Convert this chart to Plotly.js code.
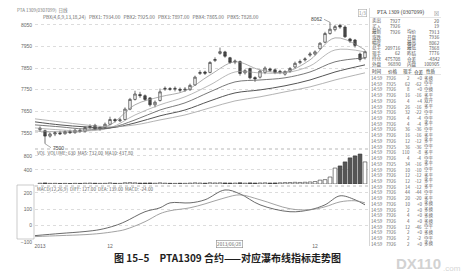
<!DOCTYPE html>
<html>
<head>
<meta charset="utf-8">
<script src="https://cdn.plot.ly/plotly-3.0.1.min.js"></script>
<style>
  html, body { margin: 0; padding: 0; background: #fff; }
  #chart { width: 468px; height: 278px; }
</style>
</head>
<body>
<div id="chart"></div>
<script>
// PTA1309 daily bars (index 0 = first visible session)
const barOpen  = [7565,7560,7535,7545,7550,7546,7556,7551,7562,7557,7575,7585,7568,7575,7590,7612,7606,7612,7660,7705,
                  7728,7722,7712,7680,7700,7752,7755,7752,7752,7748,7750,7772,7825,7832,7830,7885,7918,7925,7898,7878,
                  7880,7828,7848,7806,7808,7830,7846,7842,7830,7822,7835,7855,7875,7888,7910,7915,7940,7970,8010,8028,
                  8048,8040,7985,7980,7915,7898];
const barHigh  = [7580,7565,7552,7558,7560,7562,7565,7568,7570,7580,7590,7592,7582,7598,7625,7618,7620,7668,7712,7745,
                  7740,7728,7716,7700,7755,7765,7762,7765,7760,7762,7778,7815,7840,7838,7882,7900,7945,7930,7902,7890,
                  7885,7845,7852,7812,7842,7858,7852,7848,7842,7840,7855,7880,7890,7900,7925,7932,7970,8018,8062,8050,
                  8055,8048,7990,7985,7922,7932];
const barLow   = [7555,7500,7528,7535,7540,7542,7545,7546,7550,7552,7568,7562,7560,7570,7585,7598,7600,7608,7655,7700,
                  7712,7698,7672,7668,7695,7745,7745,7742,7738,7740,7745,7768,7818,7818,7826,7878,7912,7898,7870,7868,
                  7815,7820,7798,7786,7802,7822,7832,7822,7822,7815,7828,7850,7868,7880,7902,7908,7935,7965,8005,8020,
                  8032,7990,7966,7945,7880,7890];
const barClose = [7572,7535,7545,7550,7546,7556,7551,7562,7557,7575,7580,7568,7575,7590,7612,7606,7610,7660,7705,7730,
                  7722,7705,7680,7692,7740,7756,7752,7756,7748,7752,7770,7808,7830,7826,7876,7890,7926,7905,7876,7882,
                  7825,7838,7805,7800,7836,7850,7840,7830,7835,7834,7848,7872,7880,7892,7915,7925,7965,8010,8030,8042,
                  8040,7995,7975,7955,7890,7926];
const barVolume = [22,30,18,20,16,18,15,20,17,24,26,22,18,20,32,20,18,36,40,34,
                   26,28,30,22,34,24,20,18,22,20,26,34,28,24,36,30,34,30,28,26,
                   36,24,32,28,30,34,28,30,34,40,42,48,44,50,58,70,110,125,200,455,
                   515,630,745,800,855,630];

// waterfall (PBX) lines, sampled at bar indices
const pbxIdx = [-1,4,9,14,19,24,29,34,39,44,49,54,59,65];
const pbx1 = [7559,7555,7559,7587,7680,7717,7744,7818,7879,7842,7832,7888,7990,7934];
const pbx2 = [7573,7564,7559,7573,7633,7680,7717,7772,7832,7828,7828,7860,7934,7925];
const pbx3 = [7587,7578,7568,7573,7610,7656,7689,7740,7786,7795,7805,7832,7879,7897];
const pbx4 = [7601,7587,7578,7573,7596,7629,7656,7698,7735,7749,7768,7795,7832,7865];
const pbx5 = [7615,7601,7587,7578,7587,7610,7633,7666,7698,7717,7740,7763,7795,7828];

// MACD(12,26,9)
const macdIdx = [-1,4,9,12,15,17,21,24,26,30,33,37,40,44,50,54,57,60,63,65];
const macdDiff = [-61,-48,-36,-24,0,24,85,109,139,139,158,218,194,127,85,97,127,182,158,127];
const macdDea  = [-67,-61,-55,-48,-36,-24,24,73,91,109,133,170,188,158,103,97,115,145,152,139];
const macdBar = [15,18,20,22,20,22,25,24,22,25,28,26,30,35,40,45,48,55,60,70,
                 80,85,82,78,72,55,50,45,48,50,52,55,62,70,78,80,70,45,20,5,
                 -10,-25,-40,-55,-65,-70,-68,-60,-50,-42,-38,-35,-25,-12,-3,15,30,45,60,72,
                 80,78,70,30,-10,-24];

const priceTicks = [7550,7650,7750,7850,7950,8050];
const volumeTicks = [400,800];
const macdTicks = [-100,0,100,200];
const dateTickIdx = [0,14,55];
const dateTickText = ['2013','12','12'];
const cursorDate = '2013/06/28';

// quote panel
const quoteLabel1 = ['卖出','买入','最新','涨跌','幅度','总手','现手','持仓','外盘'];
const quoteValue1 = ['7927','7926','7926','','','209716','62','475708','96890'];
const quoteLabel2 = ['','','均价','开盘','最高','最低','昨结','仓差','内盘'];
const quoteValue2 = ['20','19','7913','7936','8062','7868','7776','-4842','100905'];
const tickHeader = ['时间','价格','现手','仓差','性质'];
const tickTime  = Array(30).fill('14:59');
const tickPrice = ['7926','7925','7926','7926','7926','7926','7926','7926','7926','7926',
                   '7926','7926','7925','7926','7926','7925','7926','7926','7926','7926',
                   '7926','7926','7926','7926','7926','7926','7926','7926','7926','7926'];
const tickVol   = ['2','62','8','16','4','26','32','4','4','36','16','12','36','110','4',
                   '34','10','12','12','14','44','20','10','2','4','4','12','2','2','2'];
const tickOI    = ['+0','-62','+0','-16','+4','-16','-22','-4','-4','-36','-16','-12','-36','-8','-4',
                   '-16','-10','-12','-12','-12','-44','-20','+0','+0','+0','+0','-46','+0','-2','+0'];
const tickKind  = ['多换','空平','空换','多平','双开','多平','空平','空平','多平','空平','多平','多平','空平','多平','空平',
                   '多平','空平','多平','多平','多平','空平','多平','多换','多换','多换','多换','空平','多换','空平','多换'];

const FONT = '"Noto Sans CJK SC", "Liberation Sans", sans-serif';
const idx = barOpen.map((_, i) => i);
const last = a => a[a.length - 1];

// plot box in pixels: left 35, right 368, top 18, bottom 242
const PL = 35, PR = 368, PT = 18, PB = 242;
const fx = x => (x - PL) / (PR - PL);
const fy = y => (PB - y) / (PB - PT);

const upDown = barClose.map((c, i) => c >= barOpen[i]);

const traces = [
  {
    type: 'candlestick', x: idx, open: barOpen, high: barHigh, low: barLow, close: barClose,
    xaxis: 'x3', yaxis: 'y3',
    increasing: { line: { color: '#3a3a3a', width: 0.7 }, fillcolor: '#ffffff' },
    decreasing: { line: { color: '#3a3a3a', width: 0.7 }, fillcolor: '#4a4a4a' },
    whiskerwidth: 0, hoverinfo: 'skip'
  }
];
const pbxSets = [
  [pbx1, '#8a8a8a', 0.7], [pbx2, '#9a9a9a', 0.7], [pbx3, '#6a6a6a', 0.9],
  [pbx4, '#555555', 1.0], [pbx5, '#a0a0a0', 0.8]
];
pbxSets.forEach(([ys, c, w]) => traces.push({
  type: 'scatter', mode: 'lines', x: pbxIdx, y: ys, xaxis: 'x3', yaxis: 'y3',
  line: { color: c, width: w, shape: 'spline', smoothing: 1 }, hoverinfo: 'skip'
}));
traces.push({
  type: 'bar', x: idx, y: barVolume, xaxis: 'x2', yaxis: 'y2', width: 0.75,
  marker: { color: upDown.map(u => u ? '#ffffff' : '#555555'), line: { color: '#333', width: 0.6 } },
  hoverinfo: 'skip'
});
traces.push({
  type: 'bar', x: idx, y: macdBar, xaxis: 'x', yaxis: 'y', width: 0.18,
  marker: { color: '#777777', line: { width: 0 } }, hoverinfo: 'skip'
});
traces.push({
  type: 'scatter', mode: 'lines', x: macdIdx, y: macdDiff, xaxis: 'x', yaxis: 'y',
  line: { color: '#444', width: 0.8, shape: 'spline' }, hoverinfo: 'skip'
});
traces.push({
  type: 'scatter', mode: 'lines', x: macdIdx, y: macdDea, xaxis: 'x', yaxis: 'y',
  line: { color: '#8a8a8a', width: 0.8, shape: 'spline' }, hoverinfo: 'skip'
});

const xr = [-1, 65.6];
const baseX = { range: xr, showgrid: false, zeroline: false, showline: false, ticks: '', fixedrange: true };
const tickFont = { size: 5, color: '#666', family: '"Liberation Sans", sans-serif' };
const gridY = { showgrid: true, gridcolor: '#c4c4c4', griddash: 'dot', gridwidth: 0.6, zeroline: false,
                showline: false, ticks: '', tickfont: tickFont, ticklabelstandoff: 2 };

const ann = [];
function txt(x, y, text, o = {}) {
  ann.push({
    xref: 'paper', yref: 'paper', x: fx(x), y: fy(y), text, showarrow: false,
    xanchor: o.xa || 'left', yanchor: 'middle',
    font: { size: o.size || 5, color: o.color || '#555', family: o.family || FONT, weight: o.weight || 'normal' },
    bgcolor: o.bg, bordercolor: o.border, borderwidth: o.border ? 0.6 : 0, borderpad: o.pad || 0
  });
}

// chart headers
txt(17, 10.5, 'PTA 1309(0307099)  日线', { color: '#777', size: 4.5 });
txt(43, 16, 'PBX(4,6,9,13,18,24)   PBX1: ' + last(pbx1) + '.00   PBX2: ' + last(pbx2) + '.00   PBX3: ' +
    last(pbx3) + '.00   PBX4: ' + last(pbx4) + '.00   PBX5: ' + last(pbx5) + '.00', { color: '#666', size: 4.8 });
txt(362, 12.5, '1/3', { color: '#888', border: '#aaa', size: 4.5, pad: 0.5, xa: 'center' });
txt(37, 152.5, 'VOL  VOLUME: ' + last(barVolume) + '  MA5: 732.00  MA10: 437.80', { color: '#666', size: 4.6 });
txt(37, 189, 'MACD(12,26,9)  DIFF: ' + last(macdDiff) + '.00  DEA: ' + last(macdDea) +
    '.00  MACD: ' + last(macdBar) + '.00', { color: '#666', size: 4.6 });
txt(229, 244, cursorDate, { color: '#666', border: '#888', size: 4.6, xa: 'center', pad: 0.5 });

// extreme price marks
const hiIdx = barHigh.indexOf(Math.max(...barHigh));
const loIdx = barLow.indexOf(Math.min(...barLow));
ann.push({ xref: 'x3', yref: 'y3', x: hiIdx, y: barHigh[hiIdx], text: String(barHigh[hiIdx]), showarrow: true,
  arrowhead: 0, arrowwidth: 0.5, arrowcolor: '#555', ax: -6, ay: -3, xanchor: 'right',
  font: { size: 5, color: '#444', family: '"Liberation Sans", sans-serif' } });
ann.push({ xref: 'x3', yref: 'y3', x: loIdx, y: barLow[loIdx], text: String(barLow[loIdx]), showarrow: true,
  arrowhead: 0, arrowwidth: 0.5, arrowcolor: '#555', ax: 6, ay: 4, xanchor: 'left',
  font: { size: 5, color: '#444', family: '"Liberation Sans", sans-serif' } });

// quote panel
txt(400, 12.5, 'PTA 1309 (0307099)', { xa: 'center', size: 5.6, color: '#444', family: '"Liberation Serif", serif' });
txt(436, 12.5, '⊠', { xa: 'center', size: 5, color: '#888' });
const qy0 = 21, qdy = 5.4;
quoteLabel1.forEach((t, i) => {
  const y = qy0 + i * qdy;
  txt(372, y, t, { size: 4.6 });
  if (quoteValue1[i]) txt(401, y, quoteValue1[i], { xa: 'right', size: 4.6 });
  if (quoteLabel2[i]) txt(407, y, quoteLabel2[i], { size: 4.6 });
  txt(440, y, quoteValue2[i], { xa: 'right', size: 4.6 });
});
const colX = [371, 386];
txt(372, 71.5, tickHeader[0], { size: 4.6, color: '#333' });
txt(388, 71.5, tickHeader[1], { size: 4.6, color: '#333' });
txt(403, 71.5, tickHeader[2], { size: 4.6, color: '#333' });
txt(414, 71.5, tickHeader[3], { size: 4.6, color: '#333' });
txt(426, 71.5, tickHeader[4], { size: 4.6, color: '#333' });
const ty0 = 78, tdy = 5.72;
tickTime.forEach((t, i) => {
  const y = ty0 + i * tdy;
  txt(colX[0], y, t, { size: 4.5, color: '#666' });
  txt(colX[1], y, tickPrice[i], { size: 4.5, color: '#666' });
  txt(410, y, tickVol[i], { size: 4.5, color: '#666', xa: 'right' });
  txt(422, y, tickOI[i], { size: 4.5, color: '#666', xa: 'right' });
  txt(424, y, tickKind[i], { size: 4.5, color: '#666' });
});

// caption and site mark
txt(227, 257, '图 15–5　PTA1309 合约——对应瀑布线指标走势图',
    { xa: 'center', size: 10, color: '#1e1e1e', weight: 'bold' });
txt(396, 263, 'DX110', { size: 15, color: '#d2d2d2', weight: 'bold', family: '"Liberation Sans", sans-serif' });
txt(443, 268, '.com', { size: 8, color: '#d6d6d6', family: '"Liberation Sans", sans-serif' });

const shapes = [
  { type: 'line', xref: 'paper', yref: 'paper', x0: 0, x1: 1, y0: fy(149), y1: fy(149), line: { color: '#999', width: 0.7, dash: 'dot' } },
  { type: 'line', xref: 'paper', yref: 'paper', x0: 0, x1: 1, y0: fy(186), y1: fy(186), line: { color: '#999', width: 0.7, dash: 'dot' } },
  { type: 'rect', xref: 'paper', yref: 'paper', x0: fx(17), x1: fx(34), y0: fy(239), y1: fy(185), line: { color: '#aaa', width: 0.6 } },
  { type: 'line', xref: 'paper', yref: 'paper', x0: fx(369.5), x1: fx(369.5), y0: fy(246), y1: fy(8), line: { color: '#bbb', width: 0.6 } },
  { type: 'line', xref: 'paper', yref: 'paper', x0: fx(370), x1: fx(441), y0: fy(17.5), y1: fy(17.5), line: { color: '#ccc', width: 0.5 } },
  { type: 'line', xref: 'paper', yref: 'paper', x0: fx(370), x1: fx(441), y0: fy(67.5), y1: fy(67.5), line: { color: '#ccc', width: 0.5 } },
  { type: 'line', xref: 'paper', yref: 'paper', x0: fx(370), x1: fx(441), y0: fy(74.5), y1: fy(74.5), line: { color: '#ccc', width: 0.5 } }
];

const layout = {
  width: 468, height: 278,
  margin: { l: PL, r: 468 - PR, t: PT, b: 278 - PB, pad: 0 },
  paper_bgcolor: '#ffffff', plot_bgcolor: '#ffffff',
  showlegend: false, dragmode: false, bargap: 0,
  font: { family: FONT },
  xaxis: Object.assign({}, baseX, { anchor: 'y', tickvals: dateTickIdx, ticktext: dateTickText,
          showticklabels: true, tickfont: tickFont, ticklabelstandoff: 0 }),
  xaxis2: Object.assign({}, baseX, { anchor: 'y2', showticklabels: false }),
  xaxis3: Object.assign({}, baseX, { anchor: 'y3', showticklabels: false, rangeslider: { visible: false } }),
  yaxis: Object.assign({}, gridY, { domain: [0, fy(187)], range: [-100, 236], tickvals: macdTicks }),
  yaxis2: Object.assign({}, gridY, { domain: [fy(184), fy(150)], range: [0, 970], tickvals: volumeTicks }),
  yaxis3: Object.assign({}, gridY, { domain: [fy(148), 1], range: [7480, 8082], tickvals: priceTicks }),
  annotations: ann,
  shapes: shapes
};

Plotly.newPlot('chart', traces, layout, { staticPlot: true, displayModeBar: false });
</script>
</body>
</html>
